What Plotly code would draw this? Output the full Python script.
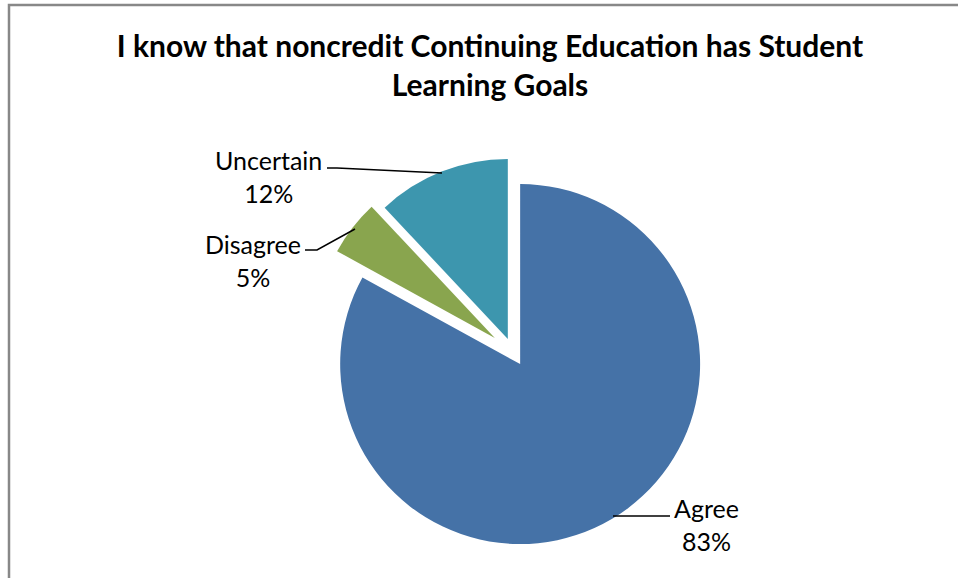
import plotly.graph_objects as go

# ---- data ----
labels = ["Agree", "Disagree", "Uncertain"]
values = [83, 5, 12]
colors = ["#4572A7", "#89A54E", "#3D96AE"]
pulls = [0.078, 0.128, 0.078]
title_text = "I know that noncredit Continuing Education has Student<br>Learning Goals"

W, H = 958, 578

def px(x):
    return x / W

def py(y):
    return 1 - y / H

# pie geometry (pixels): centre and outer extent incl. max pull
cx, cy, R = 513, 352, 203

fig = go.Figure(go.Pie(
    labels=labels,
    values=values,
    sort=False,
    direction="clockwise",
    rotation=0,
    pull=pulls,
    marker=dict(colors=colors, line=dict(width=0)),
    textinfo="none",
    hoverinfo="label+percent",
    showlegend=False,
    domain=dict(x=[px(cx - R), px(cx + R)], y=[py(cy + R), py(cy - R)]),
))

total = sum(values)
pct = [round(v / total * 100) for v in values]

label_pos = {"Agree": (706, 524), "Disagree": (253, 260), "Uncertain": (268, 177)}
leaders = {
    "Agree": [(613, 516), (670, 516)],
    "Disagree": [(305, 250), (317, 250), (355, 229)],
    "Uncertain": [(327, 168), (337, 168), (442, 173)],
}

annotations = []
shapes = []
for lab, p in zip(labels, pct):
    x, y = label_pos[lab]
    annotations.append(dict(
        text=f"{lab}<br>{p}%", x=px(x), y=py(y), xref="paper", yref="paper",
        xanchor="center", yanchor="middle", showarrow=False, align="center",
        font=dict(family="Lato", size=25, color="#000000"),
    ))
    pts = leaders[lab]
    path = "M " + " L ".join(f"{px(a)},{py(b)}" for a, b in pts)
    shapes.append(dict(type="path", path=path, xref="paper", yref="paper",
                       line=dict(color="#000000", width=1.5)))

# chart frame
shapes.append(dict(type="rect", xref="paper", yref="paper",
                   x0=px(9), x1=1.05, y0=-0.05, y1=py(5),
                   line=dict(color="#888888", width=2.5), fillcolor="rgba(0,0,0,0)"))

fig.update_layout(
    width=W, height=H,
    margin=dict(l=0, r=0, t=0, b=0),
    paper_bgcolor="white", plot_bgcolor="white",
    title=dict(text=title_text, x=px(490), xanchor="center",
               y=py(57), yanchor="middle", yref="container",
               font=dict(family="Lato", size=30, color="#000000", weight="bold")),
    annotations=annotations,
    shapes=shapes,
)

fig.write_html("out.html", config={"displayModeBar": False},
               post_script="document.body.style.margin='0';document.body.style.overflow='hidden';")
